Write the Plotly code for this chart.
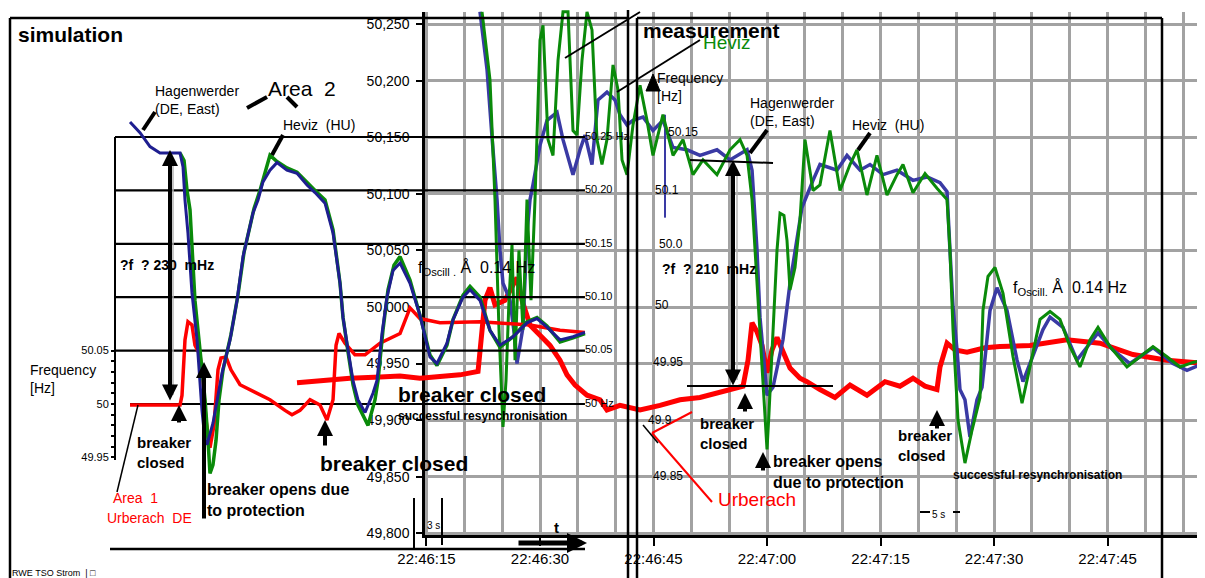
import plotly.graph_objects as go

# ---------------- DATA ----------------
# Measurement: time in seconds after 22:46:00, frequency in Hz
meas_tick_t = [15, 30, 45, 60, 75, 90, 105]
meas_tick_labels = ["22:46:15", "22:46:30", "22:46:45", "22:47:00", "22:47:15", "22:47:30", "22:47:45"]
meas_grid_t = [20, 25, 35, 40, 50, 55, 65, 70, 80, 85, 95, 100, 110, 115]
meas_ytick_f = [49.80, 49.85, 49.90, 49.95, 50.00, 50.05, 50.10, 50.15, 50.20, 50.25]
meas_ytick_labels = ["49,800", "49,850", "49,900", "49,950", "50,000", "50,050", "50,100", "50,150", "50,200", "50,250"]

meas_t_heviz = [22.34, 23.39, 24.05, 24.58, 25.11, 25.51, 25.90, 26.30, 26.70, 27.22, 27.75, 28.28, 28.81, 29.34,
                30.00, 30.40, 31.06, 31.72, 32.38, 33.04, 33.70, 34.36, 34.89, 35.55, 36.21, 36.87, 37.53, 38.19,
                38.85, 39.65, 40.31, 40.84, 41.50, 42.29, 43.22, 44.14, 44.93, 46.25, 47.58, 48.90, 50.22, 51.54,
                53.39, 55.11, 56.43, 57.36, 58.02, 58.68, 59.07, 59.47, 60.00, 60.26, 60.79, 61.32, 61.72, 62.24,
                62.64, 63.04, 63.70, 64.36, 65.02, 66.08, 67.00, 68.32, 69.65, 70.97, 71.89, 73.21, 74.53, 75.86,
                77.18, 77.97, 79.29, 80.88, 82.46, 83.79, 84.18, 84.58, 85.24, 86.16, 87.09, 88.15, 88.54, 89.20,
                90.13, 91.19, 92.51, 93.70, 94.75, 96.08, 97.40, 98.72, 100.04, 101.36, 102.68, 103.74, 105.33,
                107.57, 109.29, 111.01, 112.86, 114.58, 116.29, 117.61]
meas_f_heviz = [50.261, 50.201, 50.095, 49.980, 49.894, 49.935, 50.006, 50.055, 49.953, 50.050, 49.980, 50.095,
                50.006, 50.095, 50.236, 50.249, 50.148, 50.134, 50.218, 50.261, 50.261, 50.156, 50.152, 50.218,
                50.261, 50.245, 50.148, 50.126, 50.148, 50.214, 50.192, 50.130, 50.117, 50.161, 50.196, 50.165,
                50.134, 50.170, 50.134, 50.148, 50.117, 50.130, 50.117, 50.139, 50.148, 50.134, 50.095, 50.021,
                49.977, 49.942, 49.874, 49.906, 49.977, 50.050, 50.083, 50.081, 50.059, 50.015, 50.035, 50.077,
                50.148, 50.103, 50.108, 50.156, 50.103, 50.126, 50.139, 50.099, 50.134, 50.099, 50.117, 50.126,
                50.101, 50.118, 50.105, 50.095, 50.050, 49.980, 49.900, 49.862, 49.891, 49.920, 49.997, 50.027,
                50.035, 50.012, 49.956, 49.915, 49.947, 49.989, 49.996, 49.989, 49.965, 49.947, 49.971, 49.982,
                49.965, 49.947, 49.956, 49.965, 49.956, 49.947, 49.951, 49.953]

meas_t_hag = [22.07, 23.00, 23.66, 24.32, 24.71, 25.11, 26.04, 26.70, 26.96, 27.75, 28.28, 28.68, 29.07, 30.00,
              30.93, 32.25, 33.04, 34.36, 35.29, 35.95, 36.87, 37.66, 38.85, 39.91, 40.57, 41.50, 42.29, 43.61,
              44.93, 46.25, 47.58, 49.43, 51.14, 53.39, 55.11, 57.36, 58.02, 58.68, 59.07, 59.47, 60.00, 60.79,
              62.11, 63.04, 63.70, 64.62, 66.08, 67.00, 69.25, 70.57, 72.29, 73.61, 75.33, 77.18, 79.29, 81.14,
              82.86, 83.79, 84.18, 84.58, 85.11, 85.50, 86.16, 86.82, 87.75, 88.41, 89.47, 90.39, 91.71, 93.04,
              93.83, 95.15, 96.47, 97.40, 99.11, 100.96, 102.68, 103.74, 105.72, 107.97, 111.01, 113.65, 115.50,
              117.61]
meas_f_hag = [50.261, 50.210, 50.150, 50.095, 50.050, 50.021, 50.006, 49.971, 49.950, 49.982, 50.065, 50.095,
              50.108, 50.143, 50.165, 50.172, 50.148, 50.117, 50.139, 50.152, 50.126, 50.183, 50.190, 50.183,
              50.170, 50.161, 50.165, 50.168, 50.156, 50.165, 50.141, 50.139, 50.134, 50.139, 50.130, 50.139,
              50.121, 50.050, 49.991, 49.962, 49.922, 49.929, 49.971, 50.021, 50.050, 50.088, 50.112, 50.126,
              50.121, 50.134, 50.121, 50.126, 50.117, 50.121, 50.112, 50.115, 50.110, 50.102, 50.050, 50.000,
              49.962, 49.927, 49.918, 49.885, 49.918, 49.929, 49.997, 50.017, 49.997, 49.953, 49.934, 49.956,
              49.980, 49.991, 49.982, 49.953, 49.968, 49.977, 49.962, 49.950, 49.964, 49.950, 49.944, 49.950]
meas_t_hag_edge = [46.52, 46.52]
meas_f_hag_edge = [50.170, 50.079]

meas_t_urb = [-2.11, 0.93, 4.89, 8.86, 11.50, 14.14, 16.78, 19.43, 21.81, 22.34, 22.73, 23.39, 24.05, 25.37,
              26.30, 26.96, 27.62, 28.68, 30.00, 31.32, 32.64, 33.57, 34.63, 36.21, 37.93, 38.85, 40.57, 43.22,
              45.86, 48.50, 51.14, 53.79, 56.83, 57.49, 58.02, 58.68, 59.34, 60.00, 60.66, 61.32, 61.98, 63.04,
              64.36, 65.28, 67.00, 68.98, 70.97, 73.21, 75.59, 77.57, 79.29, 80.88, 82.46, 82.86, 83.79, 84.84,
              86.43, 88.81, 90.79, 94.75, 99.64, 104.00, 108.36, 112.86, 117.88]
meas_f_urb = [49.933, 49.935, 49.937, 49.938, 49.939, 49.937, 49.938, 49.940, 49.943, 49.980, 50.006, 50.017,
              50.002, 50.006, 50.019, 50.026, 50.006, 49.984, 49.975, 49.966, 49.953, 49.940, 49.931, 49.922,
              49.918, 49.909, 49.913, 49.909, 49.913, 49.918, 49.920, 49.925, 49.930, 49.953, 49.986, 49.978,
              49.966, 49.942, 49.962, 49.973, 49.962, 49.946, 49.937, 49.934, 49.927, 49.920, 49.931, 49.922,
              49.934, 49.930, 49.937, 49.930, 49.927, 49.947, 49.968, 49.962, 49.960, 49.964, 49.965, 49.966,
              49.971, 49.968, 49.958, 49.953, 49.950]

# Simulation: time in seconds from the start of the simulated window, frequency in Hz
sim_levels = [50.25, 50.20, 50.15, 50.10, 50.05, 50.00]
sim_level_labels = ["50.25 Hz", "50.20", "50.15", "50.10", "50.05", "50 Hz"]
sim_level_start_t = [0.0, 0.0, 0.0, 0.0, 0.0, 1.61]
sim_level_end_t = 50.37
sim_ytick_f = [49.95, 50.00, 50.05]
sim_ytick_labels = ["49.95", "50", "50.05"]
sim_minor_f = [49.96, 49.97, 49.98, 49.99, 50.01, 50.02, 50.03, 50.04]

sim_t_hag = [1.61, 2.68, 3.75, 4.82, 5.89, 6.97, 7.29, 7.50, 7.82, 8.25, 8.79, 9.11, 9.32, 9.65, 9.86, 10.50,
             10.93, 11.47, 12.33, 13.08, 13.72, 14.79, 15.33, 15.86, 16.61, 17.36, 18.43, 19.51, 20.58, 21.44,
             22.51, 23.37, 24.12, 24.44, 24.97, 25.51, 26.04, 26.80, 27.65, 28.08, 28.62, 29.15, 29.80, 30.55,
             31.62, 32.69, 33.76, 34.51, 35.58, 36.23, 37.30, 38.05, 39.12, 40.19, 41.26, 42.66, 44.16, 45.23,
             46.30, 47.70, 49.09, 50.37]
sim_f_hag = [50.264, 50.254, 50.241, 50.235, 50.235, 50.235, 50.222, 50.191, 50.160, 50.104, 50.060, 50.022,
             49.994, 49.966, 49.962, 49.982, 50.004, 50.029, 50.060, 50.097, 50.138, 50.179, 50.191, 50.208,
             50.219, 50.226, 50.219, 50.216, 50.205, 50.198, 50.188, 50.160, 50.113, 50.081, 50.051, 50.022,
             50.004, 49.992, 50.010, 50.022, 50.066, 50.100, 50.125, 50.132, 50.113, 50.083, 50.044, 50.038,
             50.057, 50.079, 50.100, 50.107, 50.097, 50.069, 50.055, 50.063, 50.076, 50.080, 50.072, 50.060,
             50.063, 50.067]

sim_t_heviz = [6.97, 7.40, 7.72, 8.04, 8.57, 9.11, 9.65, 9.97, 10.18, 10.50, 10.83, 11.15, 11.58, 12.43, 13.18,
               13.83, 14.90, 15.54, 16.08, 16.61, 17.36, 18.43, 19.51, 20.58, 21.44, 22.51, 23.37, 24.12, 24.44,
               24.97, 25.51, 26.04, 27.12, 27.87, 28.19, 28.72, 29.26, 29.90, 30.55, 31.62, 32.69, 33.76, 34.51,
               35.58, 36.23, 37.30, 38.05, 39.12, 40.19, 41.26, 42.66, 44.16, 45.23, 46.30, 47.70, 49.09, 50.37]
sim_f_heviz = [50.235, 50.228, 50.200, 50.182, 50.097, 50.051, 50.004, 49.966, 49.935, 49.943, 49.966, 50.004,
               50.032, 50.065, 50.102, 50.142, 50.183, 50.200, 50.217, 50.233, 50.227, 50.221, 50.217, 50.207,
               50.200, 50.191, 50.163, 50.113, 50.081, 50.049, 50.018, 49.999, 49.980, 50.004, 50.022, 50.069,
               50.107, 50.130, 50.138, 50.116, 50.083, 50.046, 50.036, 50.055, 50.079, 50.102, 50.110, 50.100,
               50.069, 50.053, 50.063, 50.077, 50.081, 50.073, 50.058, 50.062, 50.066]

sim_t_urb = [1.61, 6.97, 7.18, 7.50, 7.82, 8.25, 8.57, 9.11, 9.43, 9.75, 10.18, 10.61, 11.04, 11.36, 11.90, 12.43,
             13.40, 15.01, 16.61, 18.22, 18.97, 19.83, 20.90, 21.97, 22.72, 23.37, 23.69, 24.01, 24.65, 25.72,
             26.80, 28.40, 30.55, 31.62, 32.69, 34.83, 39.12, 44.48, 47.70, 50.37]
sim_f_urb = [49.999, 49.999, 50.008, 50.060, 50.077, 50.074, 50.055, 50.046, 50.022, 49.985, 49.959, 49.980,
             50.032, 50.043, 50.044, 50.032, 50.018, 50.011, 50.004, 49.994, 49.990, 49.994, 50.004, 49.999,
             49.985, 50.004, 50.055, 50.066, 50.057, 50.046, 50.046, 50.057, 50.066, 50.090, 50.080, 50.076,
             50.077, 50.074, 50.069, 50.067]

# ---------------- LAYOUT GEOMETRY ----------------
WIN_W, WIN_H = 1205, 578          # browser window
OFF = 8                           # page body margin
FW, FH = WIN_W - OFF, WIN_H - OFF # figure size so that it ends at the window edge
FONT = "Liberation Sans, Arial, sans-serif"
GRID = "#a2a2a2"
RED = "#ff0000"
GREEN = "#0a8a0a"
BLUE_MEAS = "#3a3aa4"
BLUE_SIM = "#1e1e90"


def X(px):   # window pixel -> paper fraction
    return (px - OFF) / FW


def Y(py):
    return 1 - (py - OFF) / FH


# measurement pixel mapping (window pixels)
def mt(px):
    return 30 + (px - 540) / 7.567


def mf(py):
    return 50 + (307 - py) / 1131.0


# simulation pixel mapping (window pixels)
def st(px):
    return (px - 115) / 9.33


def sf(py):
    return 50 + (404 - py) / 1068.0


fig = go.Figure()

# subplot that carries the measurement grid / axes
fig.add_trace(go.Scatter(x=[None], y=[None], xaxis="x", yaxis="y", showlegend=False, hoverinfo="skip"))

# measurement curves
fig.add_trace(go.Scatter(x=meas_t_urb, y=meas_f_urb, mode="lines", line=dict(color=RED, width=5),
                         xaxis="x2", yaxis="y2", showlegend=False, hoverinfo="skip"))
fig.add_trace(go.Scatter(x=meas_t_hag, y=meas_f_hag, mode="lines", line=dict(color=BLUE_MEAS, width=3.5),
                         xaxis="x2", yaxis="y2", showlegend=False, hoverinfo="skip"))
fig.add_trace(go.Scatter(x=meas_t_hag_edge, y=meas_f_hag_edge, mode="lines", line=dict(color=BLUE_MEAS, width=2),
                         xaxis="x2", yaxis="y2", showlegend=False, hoverinfo="skip"))
fig.add_trace(go.Scatter(x=meas_t_heviz, y=meas_f_heviz, mode="lines", line=dict(color=GREEN, width=3),
                         xaxis="x2", yaxis="y2", showlegend=False, hoverinfo="skip"))

# simulation reference lines
lx, ly = [], []
for lev, t0 in zip(sim_levels, sim_level_start_t):
    lx += [t0, sim_level_end_t, None]
    ly += [lev, lev, None]
fig.add_trace(go.Scatter(x=lx, y=ly, mode="lines", line=dict(color="black", width=2.2),
                         xaxis="x3", yaxis="y3", showlegend=False, hoverinfo="skip"))
fig.add_trace(go.Scatter(x=[sim_level_end_t] * len(sim_levels), y=sim_levels, mode="text",
                         text=sim_level_labels, textposition="middle right",
                         textfont=dict(size=11, color="black", family=FONT), cliponaxis=False,
                         xaxis="x3", yaxis="y3", showlegend=False, hoverinfo="skip"))

# simulation curves
fig.add_trace(go.Scatter(x=sim_t_urb, y=sim_f_urb, mode="lines", line=dict(color=RED, width=3.5),
                         xaxis="x3", yaxis="y3", showlegend=False, hoverinfo="skip"))
fig.add_trace(go.Scatter(x=sim_t_heviz, y=sim_f_heviz, mode="lines", line=dict(color=GREEN, width=3.5),
                         xaxis="x3", yaxis="y3", showlegend=False, hoverinfo="skip"))
fig.add_trace(go.Scatter(x=sim_t_hag, y=sim_f_hag, mode="lines", line=dict(color=BLUE_SIM, width=3),
                         xaxis="x3", yaxis="y3", showlegend=False, hoverinfo="skip"))

# ---------------- shapes (frames, leader lines) ----------------
shapes = []


def seg(x0, y0, x1, y1, w=2.5, c="black"):
    shapes.append(dict(type="line", xref="paper", yref="paper", x0=X(x0), y0=Y(y0), x1=X(x1), y1=Y(y1),
                       line=dict(color=c, width=w)))


# frames
seg(10, 18, 628, 18)
seg(10, 18, 10, 578)
seg(628, 10, 628, 578)
seg(637, 18, 637, 578)
seg(637, 18, 1162, 18)
seg(1162, 18, 1162, 578)
seg(110, 549, 585, 549)
seg(115, 137, 115, 460, w=2)
# 3 s scale bar
seg(414, 498, 414, 548, w=2)
seg(442, 498, 442, 545, w=2)
# thick leader lines
seg(143, 130, 155, 112, w=4)
seg(247, 108, 267, 97, w=4)
seg(287, 97, 297, 107, w=4)
seg(272, 155, 283, 135, w=4)
seg(750, 153, 767, 130, w=4)
seg(858, 150, 870, 133, w=4)
# thin lines
seg(117, 492, 138, 405, w=1.5)
seg(565, 58, 640, 12, w=2)
seg(617, 92, 700, 40, w=2)
seg(690, 160, 773, 163, w=2)
seg(687, 386, 833, 386, w=2)
seg(652, 433, 692, 412, w=2, c=RED)
seg(652, 433, 712, 502, w=2, c=RED)
seg(643, 425, 658, 443, w=1.5)
seg(173, 160, 173, 395, w=1.5, c="#b5b5b5")
seg(737, 170, 737, 380, w=1.5, c="#b5b5b5")
# 5 s marker dashes
seg(920, 512, 930, 512, w=2)
seg(953, 512, 960, 512, w=2)
# small upward triangle at the second chart's frequency axis
shapes.append(dict(type="path", xref="paper", yref="paper",
                   path="M {} {} L {} {} L {} {} Z".format(X(646), Y(91), X(660), Y(91), X(653), Y(74)),
                   fillcolor="black", line=dict(color="black", width=1)))

# ---------------- annotations ----------------
anns = []


def arrow(hx, hy, tx, ty, w=4, both=False, size=0.8):
    anns.append(dict(xref="paper", yref="paper", x=X(hx), y=Y(hy), ax=tx - hx, ay=ty - hy,
                     axref="pixel", ayref="pixel", text="", showarrow=True, arrowhead=2, arrowsize=size,
                     arrowwidth=w, arrowcolor="black", arrowside="end+start" if both else "end",
                     startarrowhead=2, startarrowsize=size, standoff=0, startstandoff=0))


def txt(x, y, s, size, bold=False, color="black", xanchor="left"):
    if bold:
        s = "<br>".join("<b>" + p + "</b>" for p in s.split("<br>"))
    anns.append(dict(xref="paper", yref="paper", x=X(x), y=Y(y), text=s, showarrow=False,
                     xanchor=xanchor, yanchor="middle", align="left",
                     font=dict(size=size, color=color, family=FONT)))


NB = "\u00a0"
arrow(170, 150, 170, 402, both=True)
arrow(733, 160, 733, 387, both=True)
arrow(179, 405, 179, 424)
arrow(325, 420, 325, 447)
arrow(745, 393, 745, 413)
arrow(763, 452, 763, 472)
arrow(937, 410, 937, 430)
arrow(204, 362, 204, 520)
arrow(587, 543, 517, 543, w=5)

txt(16, 34, "simulation", 21, bold=True)
txt(153, 100, "Hagenwerder<br>(DE, East)", 14)
txt(266, 88, "Area" + NB + NB + "2", 21)
txt(281, 125, "Heviz" + NB + NB + "(HU)", 14)
txt(118, 265, "?f" + NB + NB + "?" + NB + "230" + NB + NB + "mHz", 14, bold=True)
txt(28, 379, "Frequency<br>[Hz]", 14)
txt(135, 452, "breaker<br>closed", 15, bold=True)
txt(111, 498, "Area" + NB + NB + "1", 14, color=RED)
txt(105, 518, "Urberach" + NB + NB + "DE", 14, color=RED)
txt(205, 500, "breaker opens due<br>to protection", 16, bold=True)
txt(318, 463, "breaker closed", 21, bold=True)
txt(396, 394, "breaker closed", 21, bold=True)
txt(396, 416, "successful resynchronisation", 12, bold=True)
txt(416, 268, "f<sub>Oscill .</sub> Å" + NB + NB + "0.14 Hz", 16)
txt(425, 525, "3 s", 10)
txt(552, 527, "t", 15, bold=True)
txt(641, 30, "measurement", 21, bold=True)
txt(701, 43, "Heviz", 19, color=GREEN)
txt(655, 87, "Frequency<br>[Hz]", 14)
txt(666, 132, "50.15", 12)
txt(653, 190, "50.1", 12)
txt(657, 244, "50.0", 12)
txt(653, 305, "50", 12)
txt(651, 362, "49.95", 12)
txt(646, 420, "49.9", 12)
txt(651, 476, "49.85", 12)
txt(660, 269, "?f" + NB + NB + "?" + NB + "210" + NB + NB + "mHz", 14, bold=True)
txt(698, 433, "breaker<br>closed", 15, bold=True)
txt(771, 472, "breaker opens<br>due to protection", 16, bold=True)
txt(716, 499, "Urberach", 19, color=RED)
txt(748, 112, "Hagenwerder<br>(DE, East)", 14)
txt(850, 125, "Heviz" + NB + NB + "(HU)", 14)
txt(1011, 288, "f<sub>Oscill.</sub> Å" + NB + NB + "0.14 Hz", 16)
txt(896, 445, "breaker<br>closed", 15, bold=True)
txt(951, 475, "successful resynchronisation", 12, bold=True)
txt(930, 514, "5 s", 10)
txt(10, 573, "RWE TSO Strom" + NB + NB + "|" + NB + "□", 9)

# ---------------- axes ----------------
fig.update_layout(
    width=FW, height=FH, margin=dict(l=0, r=0, t=0, b=0, pad=0, autoexpand=False), autosize=False,
    paper_bgcolor="white", plot_bgcolor="rgba(0,0,0,0)", showlegend=False, hovermode=False,
    font=dict(family=FONT, color="black"),
    xaxis=dict(domain=[X(425), 1], range=[mt(425), mt(WIN_W)], anchor="y", automargin=False,
               tickmode="array", tickvals=meas_tick_t, ticktext=meas_tick_labels,
               ticks="outside", ticklen=8, tickwidth=2, tickcolor="black",
               showline=True, linecolor="black", linewidth=2.5,
               showgrid=True, gridcolor=GRID, gridwidth=2.5, zeroline=False,
               minor=dict(tickmode="array", tickvals=meas_grid_t, showgrid=True, gridcolor=GRID,
                          gridwidth=2.5, ticks=""),
               tickfont=dict(size=15, color="black", family=FONT)),
    yaxis=dict(domain=[Y(535), Y(12)], range=[mf(535), mf(12)], anchor="x", automargin=False,
               tickmode="array", tickvals=meas_ytick_f, ticktext=meas_ytick_labels,
               ticks="outside", ticklen=6, tickwidth=2, tickcolor="black",
               showline=True, linecolor="black", linewidth=2.5,
               showgrid=True, gridcolor=GRID, gridwidth=2.5, zeroline=False,
               tickfont=dict(size=14, color="black", family=FONT), ticklabelstandoff=4),
    xaxis2=dict(domain=[0, 1], range=[mt(OFF), mt(WIN_W)], anchor="y2", visible=False, automargin=False),
    yaxis2=dict(domain=[0, 1], range=[mf(WIN_H), mf(OFF)], anchor="x2", visible=False, automargin=False),
    xaxis3=dict(domain=[0, 1], range=[st(OFF), st(WIN_W)], anchor="y3", visible=False, automargin=False),
    yaxis3=dict(domain=[0, 1], range=[sf(WIN_H), sf(OFF)], anchor="free", position=X(115),
                automargin=False, autoshift=False,
                tickmode="array", tickvals=sim_ytick_f, ticktext=sim_ytick_labels,
                ticks="outside", ticklen=4, tickwidth=1.5, tickcolor="black",
                showline=False, showgrid=False, zeroline=False,
                minor=dict(tickmode="array", tickvals=sim_minor_f, ticks="outside", ticklen=4,
                           tickwidth=1.5, tickcolor="black", showgrid=False),
                tickfont=dict(size=11, color="black", family=FONT)),
    shapes=shapes, annotations=anns,
)

fig.write_html("out.html")
